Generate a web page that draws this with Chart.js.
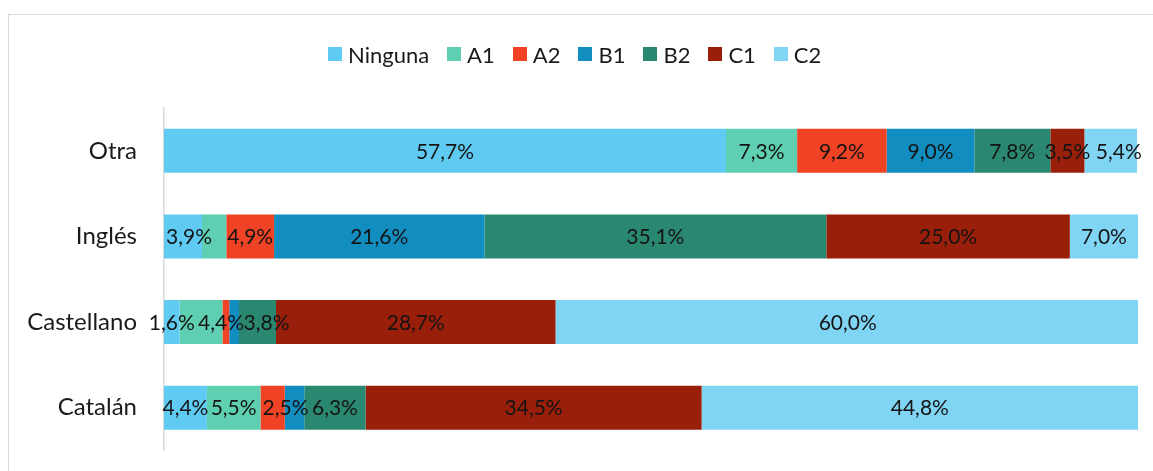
<!DOCTYPE html>
<html><head><meta charset="utf-8">
<script src="https://cdn.jsdelivr.net/npm/chart.js@4"></script>
<style>
html,body{margin:0;padding:0;background:#fff;}
#wrap{position:relative;width:1153px;height:471px;overflow:hidden;font-family:Lato,sans-serif;}
#frame{position:absolute;left:8px;top:14px;width:1200px;height:500px;border-top:1.5px solid #d9d9d9;border-left:1.5px solid #d9d9d9;}
#legend{position:absolute;left:328px;top:41px;height:26px;display:flex;align-items:center;font-size:22px;color:#1a1a1a;white-space:nowrap;}
.item{display:flex;align-items:center;margin-right:18px;}
.box{width:14px;height:14px;margin-right:6px;}
canvas{position:absolute;left:0;top:0;}
</style></head>
<body>
<div id="wrap"><div id="frame"></div><canvas id="c" width="1153" height="471"></canvas><div id="legend"></div></div>
<script>
const categories = ['Otra', 'Inglés', 'Castellano', 'Catalán'];
const seriesNames = ['Ninguna', 'A1', 'A2', 'B1', 'B2', 'C1', 'C2'];
const ninguna = [57.7, 3.9, 1.6, 4.4];
const a1 = [7.3, 2.5, 4.4, 5.5];
const a2 = [9.2, 4.9, 0.7, 2.5];
const b1 = [9.0, 21.6, 1.0, 2.0];
const b2 = [7.8, 35.1, 3.8, 6.3];
const c1 = [3.5, 25.0, 28.7, 34.5];
const c2 = [5.4, 7.0, 60.0, 44.8];
const seriesColors = ['#5FCBF3', '#5FCFB1', '#F04325', '#118EBF', '#2B8870', '#9A1F0B', '#80D5F4'];
const hiddenLabels = ['A1|Inglés', 'A2|Castellano', 'B1|Castellano', 'B1|Catalán'];
const seriesValues = [ninguna, a1, a2, b1, b2, c1, c2];

// small horizontal nudges of crowded labels (as in the original layout)
const labelNudge = { 'Ninguna|Inglés': 6, 'C2|Otra': 8, 'A1|Castellano': 20, 'B2|Castellano': 9, 'A2|Catalán': 13 };

const fmt = v => v.toFixed(1).replace('.', ',') + '%';

const legend = document.getElementById('legend');
seriesNames.forEach((n, i) => {
  const it = document.createElement('div'); it.className = 'item';
  const b = document.createElement('div'); b.className = 'box'; b.style.background = seriesColors[i];
  const t = document.createElement('span'); t.textContent = n;
  it.appendChild(b); it.appendChild(t); legend.appendChild(it);
});

const labelPlugin = {
  id: 'lbl',
  afterDatasetsDraw(chart) {
    const ctx = chart.ctx;
    ctx.save();
    ctx.font = '21px Lato';
    ctx.fillStyle = '#141414';
    ctx.textAlign = 'center';
    ctx.textBaseline = 'middle';
    chart.data.datasets.forEach((ds, i) => {
      const meta = chart.getDatasetMeta(i);
      meta.data.forEach((bar, j) => {
        const key = ds.label + '|' + categories[j];
        if (hiddenLabels.includes(key)) return;
        const dx = labelNudge[key] || 0;
        ctx.fillText(fmt(ds.data[j]), (bar.x + bar.base) / 2 + dx, bar.y + 1);
      });
    });
    ctx.restore();
  }
};

new Chart(document.getElementById('c'), {
  type: 'bar',
  data: {
    labels: categories,
    datasets: seriesNames.map((n, i) => ({
      label: n, data: seriesValues[i], backgroundColor: seriesColors[i],
      borderWidth: 0, barPercentage: 0.515, categoryPercentage: 1
    }))
  },
  options: {
    indexAxis: 'y',
    responsive: false,
    animation: false,
    layout: { padding: { top: 108, bottom: 20.5, right: 15, left: 0 } },
    plugins: { legend: { display: false }, tooltip: { enabled: false } },
    scales: {
      x: { stacked: true, min: 0, max: 100, display: false },
      y: {
        stacked: true,
        afterFit: s => { s.width = 164; s.paddingTop = 0; s.paddingBottom = 0; },
        grid: { display: false },
        border: { display: true, color: '#d9d9d9', width: 1.5 },
        ticks: { padding: 19, color: '#1a1a1a', font: { family: 'Lato', size: 24 } }
      }
    }
  },
  plugins: [labelPlugin]
});
</script>
</body></html>
